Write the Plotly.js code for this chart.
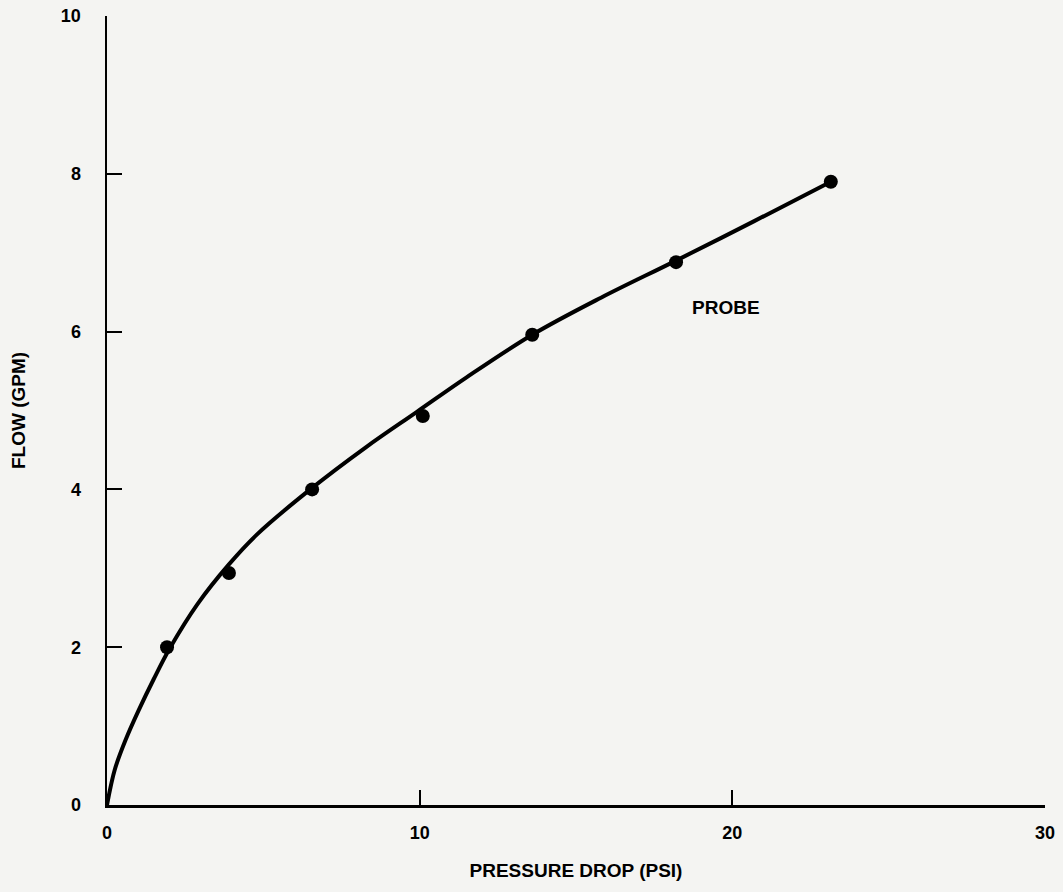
<!DOCTYPE html>
<html>
<head>
<meta charset="utf-8">
<script src="https://cdn.plot.ly/plotly-3.0.1.min.js"></script>
<style>html,body{margin:0;padding:0;background:#f4f4f2;}</style>
</head>
<body>
<div id="chart" style="width:1063px;height:892px;"></div>
<script>
// Measured data points (pressure drop in PSI, flow in GPM)
const pointX = [1.92, 3.9, 6.56, 10.1, 13.6, 18.2, 23.15];
const pointY = [2.0, 2.94, 4.0, 4.93, 5.96, 6.88, 7.9];

// Fitted curve
const curveX = [0, 0.25, 0.6, 1.0, 1.5, 2.0, 2.9, 3.9, 4.8, 6.5, 8.3, 9.9, 11.5, 13.6, 15.8, 18.2, 20.7, 23.15];
const curveY = [0, 0.45, 0.83, 1.19, 1.6, 1.98, 2.55, 3.05, 3.43, 4.0, 4.54, 4.98, 5.42, 5.96, 6.43, 6.9, 7.4, 7.9];

const xTicks = [0, 10, 20, 30];
const yTicks = [0, 2, 4, 6, 8, 10];
const curveLabel = 'PROBE';

const font = "Liberation Sans, Arial, sans-serif";

const traces = [
  {x: curveX, y: curveY, mode: 'lines', line: {color: '#000', width: 4, shape: 'spline', smoothing: 1}, hoverinfo: 'skip'},
  {x: pointX, y: pointY, mode: 'markers', marker: {color: '#000', size: 14}, cliponaxis: false}
];

const layout = {
  width: 1063, height: 892,
  paper_bgcolor: '#f4f4f2', plot_bgcolor: '#f4f4f2',
  showlegend: false,
  margin: {l: 107, r: 18, t: 16, b: 87},
  font: {family: font, color: '#000', size: 18, weight: 'bold'},
  xaxis: {
    range: [0, 30], tickvals: xTicks, ticktext: xTicks.map(String),
    showgrid: false, zeroline: false, showline: true, linecolor: '#000', linewidth: 2.5,
    ticks: 'inside', ticklen: 15, tickwidth: 2, tickcolor: '#000',
    ticklabelstandoff: 10,
    tickfont: {family: font, size: 18, color: '#000', weight: 'bold'},
    title: {text: 'PRESSURE DROP (PSI)', font: {size: 19, family: font, color: '#000', weight: 'bold'}, standoff: 22}
  },
  yaxis: {
    range: [0, 10], tickvals: yTicks, ticktext: yTicks.map(String),
    showgrid: false, zeroline: false, showline: true, linecolor: '#000', linewidth: 2.5,
    ticks: 'inside', ticklen: 15, tickwidth: 2, tickcolor: '#000',
    ticklabelstandoff: 20,
    tickfont: {family: font, size: 18, color: '#000', weight: 'bold'},
    title: {text: 'FLOW (GPM)', font: {size: 19, family: font, color: '#000', weight: 'bold'}, standoff: 30}
  },
  annotations: [
    {x: 19.8, y: 6.3, text: curveLabel, showarrow: false, font: {size: 19, family: font, color: '#000', weight: 'bold'}}
  ]
};

Plotly.newPlot('chart', traces, layout, {displayModeBar: false, staticPlot: true});
</script>
</body>
</html>
